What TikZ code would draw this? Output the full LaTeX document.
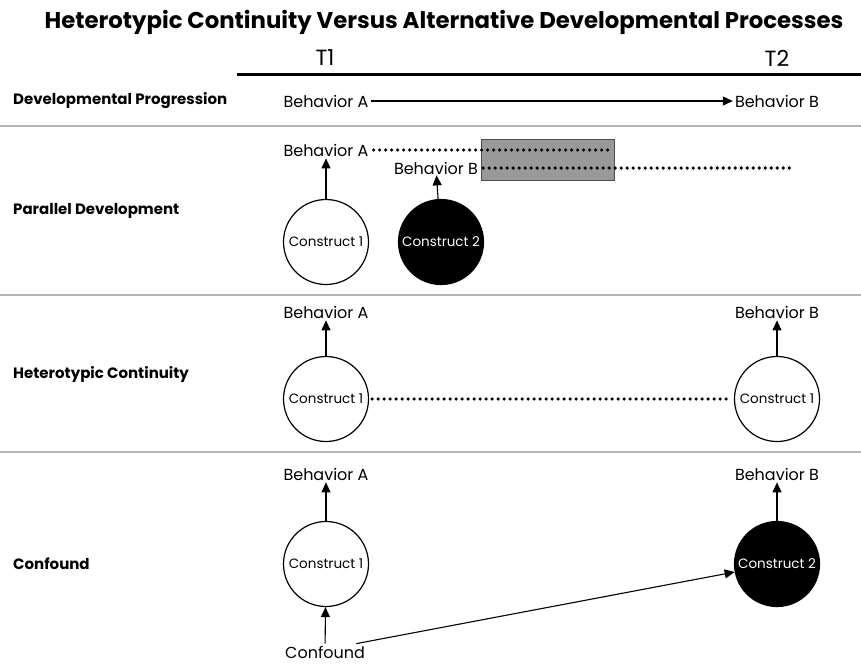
\documentclass[tikz,border=0pt]{standalone}
\usepackage{fontspec}
\setmainfont{Poppins}
\usetikzlibrary{arrows.meta}
\definecolor{sepgray}{HTML}{B4B4B4}
\definecolor{boxgray}{HTML}{999999}
\tikzset{
  rowlabel/.style={anchor=west,font=\fontsize{15}{17}\selectfont\bfseries,inner sep=0pt},
  beh/.style={font=\fontsize{16}{18}\selectfont,inner sep=2pt},
  cwhite/.style={circle,draw,line width=1.2pt,fill=white,minimum size=85pt,inner sep=0pt,font=\fontsize{13.5}{15}\selectfont},
  cblack/.style={circle,draw,line width=1.2pt,fill=black,text=white,minimum size=85pt,inner sep=0pt,font=\fontsize{13.5}{15}\selectfont},
  arr/.style={line width=1.1pt,-{Triangle[width=9pt,length=10pt]}},
  dotline/.style={line width=3.6pt,dash pattern=on 0pt off 6pt,line cap=round},
  sep/.style={draw=sepgray,line width=1.5pt}
}
\begin{document}
\begin{tikzpicture}[x=1pt,y=-1pt]
\useasboundingbox (0,0) rectangle (861,664);
% title
\node[font=\fontsize{22.8}{26}\selectfont\bfseries] (title) at (444,22) {Heterotypic Continuity Versus Alternative Developmental Processes};
\node[font=\fontsize{22}{26}\selectfont] (t1) at (325,58) {T1};
\node[font=\fontsize{22}{26}\selectfont] (t2) at (777,58) {T2};
\coordinate (tl0) at (237,74);
\coordinate (tl1) at (861,74);
\draw[line width=3pt] (tl0) -- (tl1);
% separators
\coordinate (s1a) at (0,126); \coordinate (s1b) at (861,126);
\coordinate (s2a) at (0,295); \coordinate (s2b) at (861,295);
\coordinate (s3a) at (0,452); \coordinate (s3b) at (861,452);
\draw[sep] (s1a) -- (s1b);
\draw[sep] (s2a) -- (s2b);
\draw[sep] (s3a) -- (s3b);
% row labels
\node[rowlabel] (l1) at (13,101) {Developmental Progression};
\node[rowlabel] (l2) at (13,211) {Parallel Development};
\node[rowlabel] (l3) at (13,374) {Heterotypic Continuity};
\node[rowlabel] (l4) at (13,564) {Confound};
% row 1
\node[beh] (r1a) at (326,101) {Behavior A};
\node[beh] (r1b) at (777,101) {Behavior B};
\draw[arr] (r1a) -- (r1b);
% row 2
\coordinate (bx1) at (481,139); \coordinate (bx2) at (614,180);
\draw[fill=boxgray,draw=black!70,line width=1pt] (bx1) rectangle (bx2);
\node[beh] (r2a) at (326,150) {Behavior A};
\node[beh,inner sep=1pt] (r2b) at (436,168) {Behavior B};
\coordinate (r2ae) at (612,150);
\coordinate (r2be) at (795,168);
\draw[dotline] ([xshift=3pt]r2a.east) -- (r2ae);
\draw[dotline] ([xshift=4pt]r2b.east) -- (r2be);
\node[cwhite] (r2c1) at (326,242) {Construct 1};
\node[cblack] (r2c2) at (441,242) {Construct 2};
\draw[arr] (r2c1) -- (r2a);
\draw[arr] (r2c2) -- (r2b);
% row 3
\node[beh] (r3a) at (326,312) {Behavior A};
\node[beh] (r3b) at (777,312) {Behavior B};
\node[cwhite] (r3c1) at (326,399) {Construct 1};
\node[cwhite] (r3c2) at (777,399) {Construct 1};
\draw[arr] (r3c1) -- (r3a);
\draw[arr] (r3c2) -- (r3b);
\draw[dotline] ([xshift=3pt]r3c1.east) -- ([xshift=-3pt]r3c2.west);
% row 4
\node[beh] (r4a) at (326,474) {Behavior A};
\node[beh] (r4b) at (777,474) {Behavior B};
\node[cwhite] (r4c1) at (326,564) {Construct 1};
\node[cblack] (r4c2) at (777,564) {Construct 2};
\node[beh] (conf) at (325,652) {Confound};
\draw[arr] (r4c1) -- (r4a);
\draw[arr] (r4c2) -- (r4b);
\draw[arr] (conf) -- (r4c1);
\draw[arr] (conf.15) -- (r4c2);
\end{tikzpicture}
\end{document}
